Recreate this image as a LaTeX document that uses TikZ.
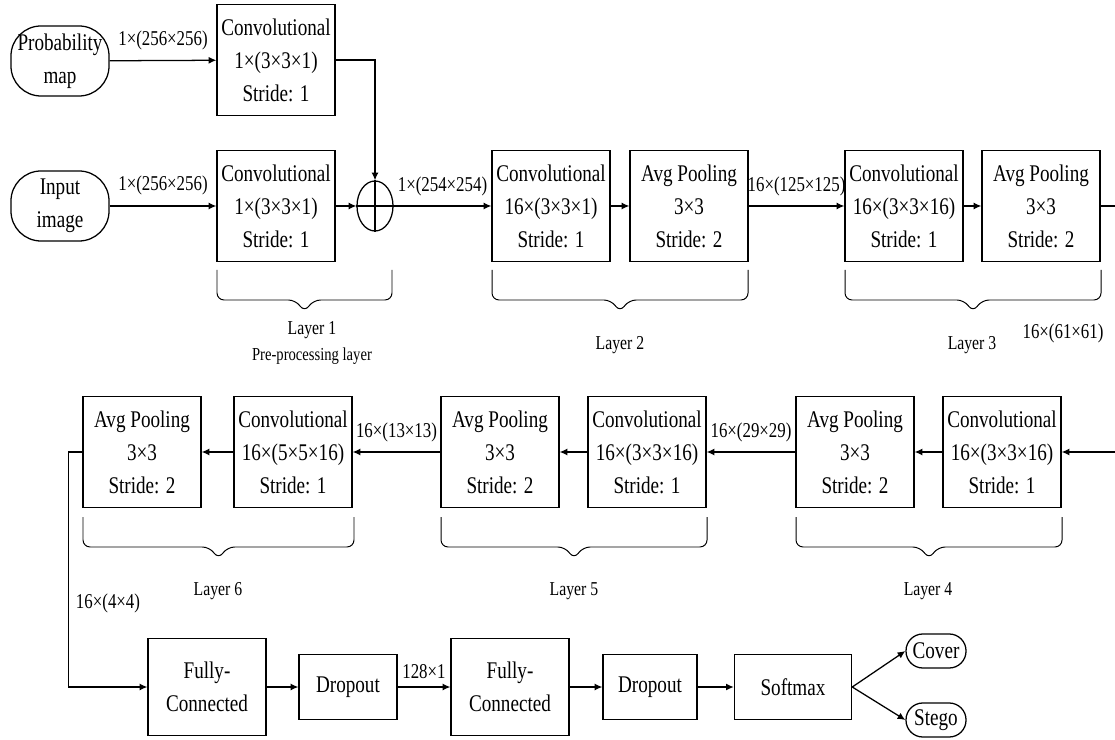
\documentclass[tikz,border=0pt]{standalone}
\usepackage{fontspec}
\setmainfont{Liberation Serif}[FakeStretch=0.8]
\usetikzlibrary{arrows.meta, shapes.geometric}

\tikzset{
  block/.style={draw, rectangle, align=center, inner sep=1pt, minimum width=2.95cm, minimum height=2.78cm, font=\fontsize{17}{23.5}\selectfont},
  smallblock/.style={block, minimum width=2.45cm, minimum height=1.63cm},
  fcblock/.style={block, minimum height=2.43cm},
  terminal/.style={draw, rectangle, rounded corners=0.75cm, align=center, inner sep=1pt, minimum width=2.45cm, minimum height=1.75cm, font=\fontsize{17}{23.5}\selectfont},
  outcome/.style={draw, rectangle, rounded corners=0.42cm, inner sep=1pt, minimum width=1.5cm, minimum height=0.85cm, font=\fontsize{17}{20}\selectfont},
  dimlabel/.style={font=\fontsize{15}{17}\selectfont},
  layerlabel/.style={align=center, font=\fontsize{14}{18}\selectfont}
}

\begin{document}
\begin{tikzpicture}[x=0.025cm, y=-0.025cm, line width=0.9pt, >={Latex[length=5.5pt,width=5pt]}]
\useasboundingbox (0,0) rectangle (1115,740);

% Inputs and pre-processing (Layer 1)
\node[terminal] (prob) at (60,61) {Probability\\map};
\node[terminal] (inp) at (60,206) {Input\\image};
\node[block] (convP) at (276,60) {Convolutional\\1×(3×3×1)\\Stride: 1};
\node[block] (convI) at (276,206) {Convolutional\\1×(3×3×1)\\Stride: 1};
\node[draw, ellipse, inner sep=0pt, minimum width=0.9cm, minimum height=1.25cm] (plus) at (375,206) {};
\draw (plus.north) -- (plus.south);
\draw (plus.west) -- (plus.east);

\draw[->] (prob) -- node[dimlabel, above=4pt] {1×(256×256)} (convP);
\draw[->] (inp) -- node[dimlabel, above=4pt] {1×(256×256)} (convI);
\draw[->] (convP.east) -| (plus.north);
\draw[->] (convI) -- (plus);

% Layer 2 and Layer 3
\node[block] (conv2) at (551,206) {Convolutional\\16×(3×3×1)\\Stride: 1};
\node[block] (pool2) at (689,206) {Avg Pooling\\3×3\\Stride: 2};
\node[block] (conv3) at (904,206) {Convolutional\\16×(3×3×16)\\Stride: 1};
\node[block] (pool3) at (1041,206) {Avg Pooling\\3×3\\Stride: 2};
\coordinate (outR) at (1115,206);

\draw[->] (plus) -- node[dimlabel, above=3pt] {1×(254×254)} (conv2);
\draw[->] (conv2) -- (pool2);
\draw[->] (pool2) -- node[dimlabel, above=3pt] {16×(125×125)} (conv3);
\draw[->] (conv3) -- (pool3);
\draw (pool3) -- (outR);

% Layer 4, Layer 5 and Layer 6 (right to left)
\node[block] (conv4) at (1002,452) {Convolutional\\16×(3×3×16)\\Stride: 1};
\node[block] (pool4) at (855,452) {Avg Pooling\\3×3\\Stride: 2};
\node[block] (conv5) at (647,452) {Convolutional\\16×(3×3×16)\\Stride: 1};
\node[block] (pool5) at (500,452) {Avg Pooling\\3×3\\Stride: 2};
\node[block] (conv6) at (293,452) {Convolutional\\16×(5×5×16)\\Stride: 1};
\node[block] (pool6) at (142,452) {Avg Pooling\\3×3\\Stride: 2};
\coordinate (inR) at (1115,452);

\draw[->] (inR) -- (conv4);
\draw[->] (conv4) -- (pool4);
\draw[->] (pool4) -- node[dimlabel, above=3pt] {16×(29×29)} (conv5);
\draw[->] (conv5) -- (pool5);
\draw[->] (pool5) -- node[dimlabel, above=3pt] {16×(13×13)} (conv6);
\draw[->] (conv6) -- (pool6);

% Classifier
\node[fcblock] (fc1) at (207,687) {Fully-\\Connected};
\node[smallblock] (drop1) at (348,687) {Dropout};
\node[fcblock] (fc2) at (510,687) {Fully-\\Connected};
\node[smallblock, minimum width=2.35cm] (drop2) at (650,687) {Dropout};
\node[smallblock, minimum width=2.93cm] (soft) at (793,687) {Softmax};
\node[outcome] (cover) at (936,651) {Cover};
\node[outcome] (stego) at (936,720) {Stego};

\draw[->] (pool6.west) -- ++(-14,0) |- (fc1.west);
\draw[->] (fc1) -- (drop1);
\draw[->] (drop1) -- node[dimlabel, above=2pt] {128×1} (fc2);
\draw[->] (fc2) -- (drop2);
\draw[->] (drop2) -- (soft);
\draw[->] (soft.east) -- (cover.west);
\draw[->] (soft.east) -- (stego.west);

% Layer braces
\foreach \a/\b/\t in {217/392/270, 492/748/270, 845/1101/270, 83/354/517, 441/707/517, 796/1062/517}
  \draw[line width=0.7pt, rounded corners=5pt] (\a,\t) -- (\a,\t+30) -- ({(\a+\b)/2-9},\t+30) -- ({(\a+\b)/2},\t+42) -- ({(\a+\b)/2+9},\t+30) -- (\b,\t+30) -- (\b,\t);

% Layer names and shapes
\node[layerlabel] (l1) at (312,343) {Layer 1\\{\fontsize{13}{15}\selectfont Pre-processing layer}};
\node[layerlabel] (l2) at (620,345) {Layer 2};
\node[layerlabel] (l3) at (972,345) {Layer 3};
\node[dimlabel] (d3) at (1063,333) {16×(61×61)};
\node[layerlabel] (l4) at (928,591) {Layer 4};
\node[layerlabel] (l5) at (574,591) {Layer 5};
\node[layerlabel] (l6) at (218,591) {Layer 6};
\node[dimlabel] (d6) at (108,603) {16×(4×4)};

\end{tikzpicture}
\end{document}
